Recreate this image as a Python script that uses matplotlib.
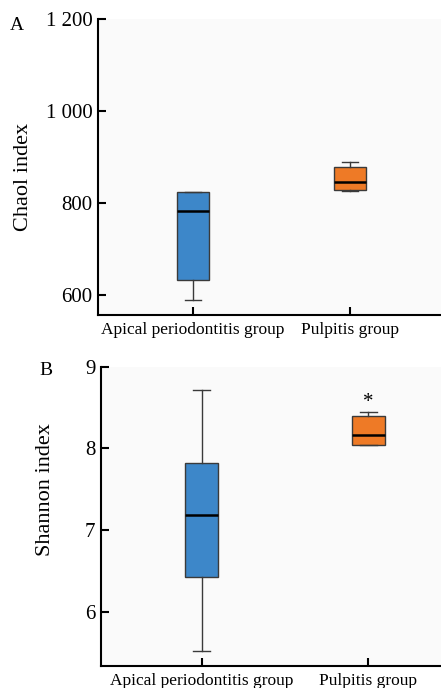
import matplotlib
matplotlib.use("Agg")
from matplotlib import pyplot as plt

plt.rcParams['font.family'] = ['Liberation Serif', 'DejaVu Serif']

groups = ["Apical periodontitis group", "Pulpitis group"]
box_colors = ["#3d87c9", "#ee7a26"]

# Chao1 index (panel A)
chao_whislo = [588, 825]
chao_q1 = [633, 829]
chao_med = [782, 845]
chao_q3 = [823, 879]
chao_whishi = [823, 889]
chao_ticks = [600, 800, 1000, 1200]
chao_ticklabels = ["600", "800", "1 000", "1 200"]

# Shannon index (panel B)
shan_whislo = [5.52, 8.04]
shan_q1 = [6.42, 8.04]
shan_med = [7.19, 8.17]
shan_q3 = [7.82, 8.40]
shan_whishi = [8.71, 8.45]
shan_ticks = [6, 7, 8, 9]
shan_ticklabels = ["6", "7", "8", "9"]


def make_stats(lo, q1, med, q3, hi):
    stats = []
    for i in range(len(lo)):
        stats.append({"whislo": lo[i], "q1": q1[i], "med": med[i],
                      "q3": q3[i], "whishi": hi[i], "fliers": []})
    return stats


def draw_panel(ax, stats, ticks, ticklabels, ylim, xlim, ylabel):
    ax.set_facecolor("#fafafa")
    bp = ax.bxp(stats, positions=[1, 2], widths=0.2, capwidths=0.1,
                patch_artist=True, showfliers=False,
                boxprops=dict(edgecolor="#3a3a3a", linewidth=1.0),
                medianprops=dict(color="black", linewidth=1.8),
                whiskerprops=dict(color="#3a3a3a", linewidth=1.0),
                capprops=dict(color="#3a3a3a", linewidth=1.0))
    for patch, c in zip(bp["boxes"], box_colors):
        patch.set_facecolor(c)
    ax.set_xlim(*xlim)
    ax.set_ylim(*ylim)
    ax.set_yticks(ticks)
    ax.set_yticklabels(ticklabels)
    ax.set_xticks([1, 2])
    ax.set_xticklabels(groups)
    ax.spines["top"].set_visible(False)
    ax.spines["right"].set_visible(False)
    ax.spines["left"].set_linewidth(1.5)
    ax.spines["bottom"].set_linewidth(1.5)
    ax.tick_params(axis="y", direction="in", length=6, width=1.5,
                   labelsize=15, pad=4)
    ax.tick_params(axis="x", direction="in", length=6, width=1.5,
                   labelsize=12.5, pad=5)
    ax.set_ylabel(ylabel, fontsize=16)


fig = plt.figure(figsize=(4.41, 6.88), dpi=100)

ax1 = fig.add_axes([98 / 441, 1 - 315 / 688, 1 - 98 / 441, (315 - 19) / 688])
draw_panel(ax1, make_stats(chao_whislo, chao_q1, chao_med, chao_q3, chao_whishi),
           chao_ticks, chao_ticklabels, (556, 1200), (0.395, 2.58), "Chaol index")
ax1.yaxis.set_label_coords(-0.19, 0.466)

ax2 = fig.add_axes([101 / 441, 1 - 665.7 / 688, 1 - 101 / 441, (665.7 - 366.7) / 688])
draw_panel(ax2, make_stats(shan_whislo, shan_q1, shan_med, shan_q3, shan_whishi),
           shan_ticks, shan_ticklabels, (5.34, 9.0), (0.396, 2.436), "Shannon index")
ax2.yaxis.set_label_coords(-0.135, 0.588)
ax2.text(2, 8.56, "*", ha="center", va="center", fontsize=15)

fig.text(10 / 441, 1 - 30 / 688, "A", fontsize=14, ha="left", va="baseline")
fig.text(39 / 441, 1 - 375 / 688, "B", fontsize=14, ha="left", va="baseline")

plt.savefig("out.png", dpi=100)
